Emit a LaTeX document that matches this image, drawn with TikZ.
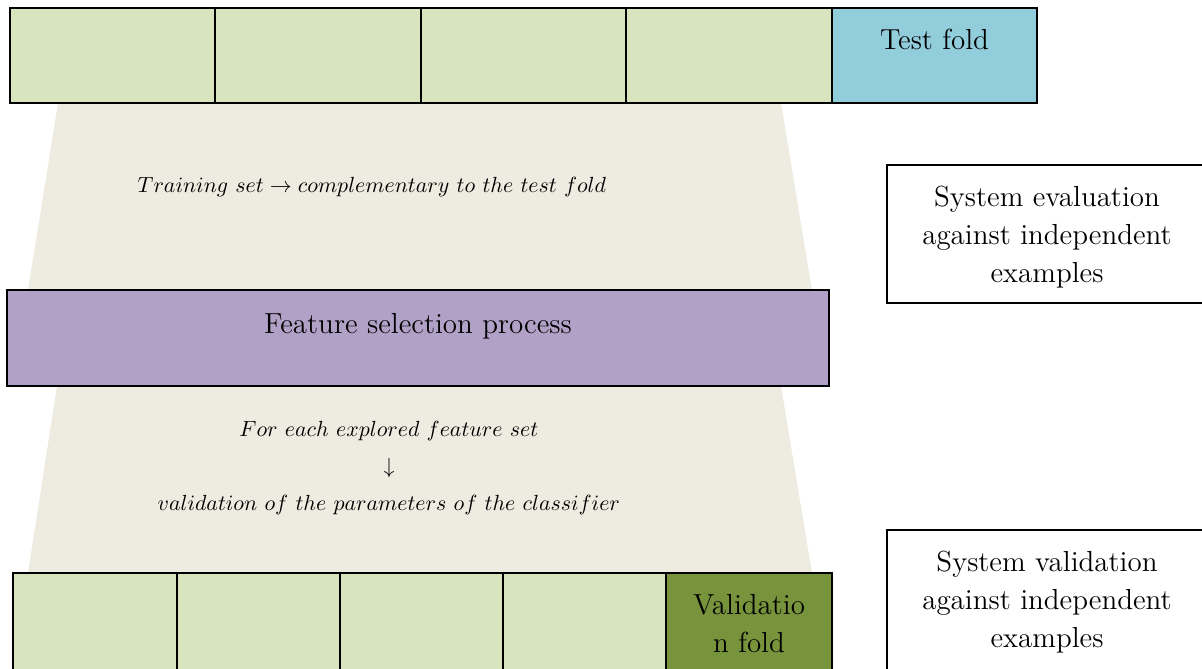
\documentclass[tikz,border=0pt]{standalone}
\usepackage{amsmath}
\begin{document}
\begin{tikzpicture}[x=0.5pt,y=-0.5pt,
  cell/.style={draw=black,line width=1pt,minimum width=#1,minimum height=47.5pt,inner sep=0pt,outer sep=0pt},
  train/.style={cell=#1,fill=foldgreen},
  note/.style={draw=black,line width=0.8pt,fill=white,inner sep=0pt,outer sep=0pt},
  txt/.style={anchor=base,inner sep=0pt,font=\fontsize{14.5}{19}\selectfont,align=center},
  mtxt/.style={anchor=base,inner sep=0pt,font=\fontsize{11.2}{18.5}\selectfont,align=center}]
\definecolor{foldgreen}{HTML}{D7E4BD}
\definecolor{testblue}{HTML}{92CDDC}
\definecolor{selpurple}{HTML}{B2A1C7}
\definecolor{funnel}{HTML}{EEECE1}
\definecolor{valgreen}{HTML}{77933C}
\clip (0,0) rectangle (1202,668);
\useasboundingbox (0,0) rectangle (1202,668);

% funnels between the rows
\fill[funnel] (58,103) -- (781,103) -- (812,290) -- (28,290) -- cycle;
\fill[funnel] (57,386) -- (781,386) -- (812,573) -- (28,573) -- cycle;

% outer partition: four training folds and the test fold
\node[train=102.75pt] (t1) at (112.5,55.5) {};
\node[train=103pt]    (t2) at (318,55.5) {};
\node[train=102.5pt]  (t3) at (523.5,55.5) {};
\node[train=103pt]    (t4) at (729,55.5) {};
\node[cell=102.5pt,fill=testblue] (tf) at (934.5,55.5) {};
\node[txt] (tflbl) at (934.5,50) {Test fold};

% feature selection stage
\node[draw=black,line width=1pt,fill=selpurple,minimum width=411pt,minimum height=48pt,inner sep=0pt] (fs) at (418,338) {};
\node[txt] (fslbl) at (418,333) {Feature selection process};

% inner partition: four training folds and the validation fold
\node[cell=82pt,minimum height=48.5pt,fill=foldgreen] (v1) at (95,621.5) {};
\node[cell=81.5pt,minimum height=48.5pt,fill=foldgreen] (v2) at (258.5,621.5) {};
\node[cell=81.5pt,minimum height=48.5pt,fill=foldgreen] (v3) at (421.5,621.5) {};
\node[cell=81.5pt,minimum height=48.5pt,fill=foldgreen] (v4) at (584.5,621.5) {};
\node[cell=83pt,minimum height=48.5pt,fill=valgreen] (vf) at (749,621.5) {};
\node[txt] (vflbl) at (749,652) {Validatio\\n fold};

% math captions inside the funnels (base anchor sits on the last line)
\node[mtxt] (cap1) at (372,192) {$Training\ set \rightarrow complementary\ to\ the\ test\ fold$};
\node[mtxt] (cap2) at (389,510) {$For\ each\ explored\ feature\ set$\\$\downarrow$\\$validation\ of\ the\ parameters\ of\ the\ classifier$};

% side notes
\node[note,minimum width=161.5pt,minimum height=69pt] (eval) at (1048.5,234) {};
\node[txt] (evallbl) at (1047,282) {System evaluation\\against independent\\examples};
\node[note,minimum width=161.5pt,minimum height=85pt] (valn) at (1048.5,615) {};
\node[txt] (valnlbl) at (1047,647) {System validation\\against independent\\examples};
\end{tikzpicture}
\end{document}
